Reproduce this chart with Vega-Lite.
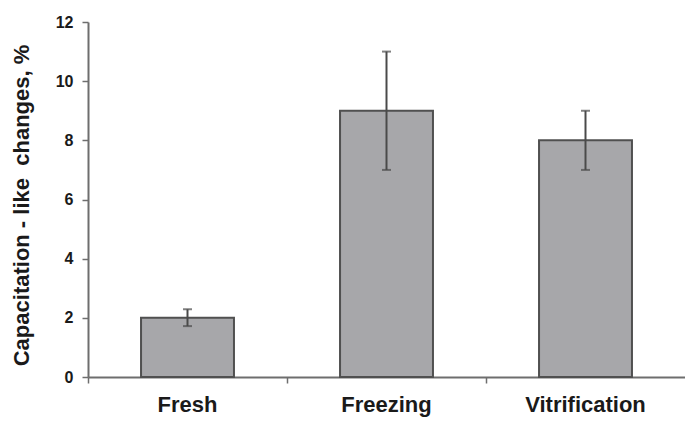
{
  "$schema": "https://vega.github.io/schema/vega-lite/v6.json",
  "width": 597,
  "height": 355,
  "autosize": {"type": "none"},
  "padding": {"left": 88, "top": 22, "right": 0, "bottom": 44},
  "background": "white",
  "config": {"view": {"stroke": null}, "font": "Liberation Sans"},
  "data": {"values": [
    {"group": "Fresh", "value": 2, "low": 1.72, "high": 2.29},
    {"group": "Freezing", "value": 9, "low": 7.0, "high": 11.0},
    {"group": "Vitrification", "value": 8, "low": 7.0, "high": 9.0}
  ]},
  "encoding": {
    "x": {
      "field": "group", "type": "nominal", "sort": null,
      "scale": {"paddingInner": 0.533, "paddingOuter": 0.2665},
      "axis": {
        "title": null, "labelAngle": 0, "labelFont": "Liberation Sans", "labelFontWeight": "bold",
        "labelFontSize": 22, "labelColor": "#1a1a1a", "labelPadding": 11,
        "domainColor": "#6e6e6e", "domainWidth": 2, "tickColor": "#6e6e6e", "tickWidth": 1.5,
        "tickSize": 6, "bandPosition": -0.57
      }
    }
  },
  "layer": [
    {
      "mark": {"type": "bar", "fill": "#a7a7aa", "stroke": "#505050", "strokeWidth": 2},
      "encoding": {
        "y": {
          "field": "value", "type": "quantitative",
          "scale": {"domain": [0, 12], "nice": false},
          "axis": {
            "values": [0, 2, 4, 6, 8, 10, 12], "grid": false,
            "title": "Capacitation - like \u00a0changes, %",
            "titleFont": "Liberation Sans", "titleFontWeight": "bold", "titleFontSize": 22,
            "titleColor": "#1a1a1a", "titlePadding": 22, "titleY": 183,
            "labelFont": "Liberation Sans", "labelFontWeight": "bold", "labelFontSize": 16,
            "labelColor": "#1a1a1a", "labelPadding": 9,
            "domainColor": "#6e6e6e", "domainWidth": 2, "tickColor": "#6e6e6e", "tickWidth": 1.5, "tickSize": 6
          }
        }
      }
    },
    {
      "mark": {"type": "rule", "color": "#4a4a4a", "strokeWidth": 2},
      "encoding": {
        "y": {"field": "low", "type": "quantitative"},
        "y2": {"field": "high"}
      }
    },
    {
      "mark": {"type": "tick", "color": "#4a4a4a", "thickness": 2, "size": 9},
      "encoding": {"y": {"field": "low", "type": "quantitative"}}
    },
    {
      "mark": {"type": "tick", "color": "#4a4a4a", "thickness": 2, "size": 9},
      "encoding": {"y": {"field": "high", "type": "quantitative"}}
    }
  ]
}
